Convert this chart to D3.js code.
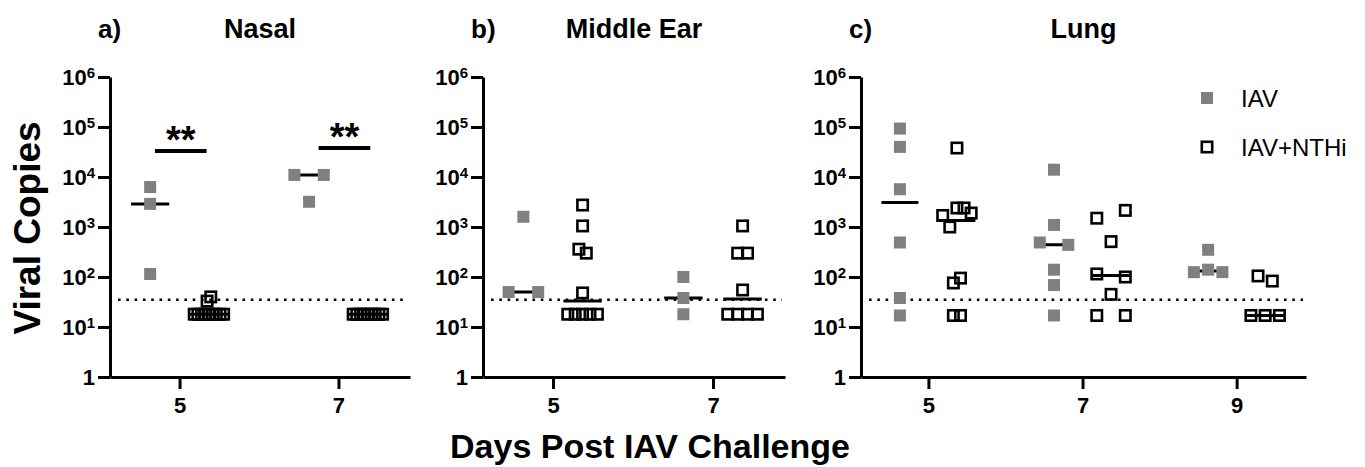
<!DOCTYPE html>
<html>
<head>
<meta charset="utf-8">
<script src="https://cdn.jsdelivr.net/npm/d3@7"></script>
<style>
  body { margin: 0; background: #fff; }
  text { font-family: "Liberation Sans", Arial, sans-serif; }
</style>
</head>
<body>
<svg id="chart" width="1365" height="467"></svg>
<script>
// ---- data (viral copies per animal) ----
const nasalDays = [5, 7];
const nasalIAV = [[6300, 2900, 115], [11000, 3200, 11000]];
const nasalNTHi = [[33, 40, 18, 18, 18, 18, 18, 18, 18, 18, 18], [18, 18, 18, 18, 18, 18, 18, 18, 18]];

const earDays = [5, 7];
const earIAV = [[50, 1600, 50], [100, 38, 18]];
const earNTHi = [[2750, 1050, 360, 300, 48, 18, 18, 18, 18, 18], [1050, 300, 300, 55, 18, 18, 18, 18]];

const lungDays = [5, 7, 9];
const lungIAV = [[93000, 40000, 5700, 490, 38, 17], [14000, 1100, 490, 440, 140, 69, 17], [125, 140, 125, 350]];
const lungNTHi = [[38000, 1700, 1000, 2400, 2400, 1900, 76, 95, 17, 17], [1500, 2150, 510, 115, 100, 45, 17, 17], [105, 83, 17, 17, 17]];

// significance bars on the nasal panel (days, copies)
const sigStart = [4.69, 6.75];
const sigEnd = [5.34, 7.40];
const sigValue = [33000, 38000];
const sigLabel = ["**", "**"];

const detectionLimit = 35;
const yTicks = [1, 10, 100, 1000, 10000, 100000, 1000000];
const seriesNames = ["IAV", "IAV+NTHi"];

// ---- layout ----
const svg = d3.select("#chart");
const gray = "#808080";
const y = d3.scaleLog().domain([1, 1e6]).range([377, 77]);
const groupOffset = 0.37;   // days left/right of the tick
const spreadWidth = 0.37;   // max horizontal spread of a row, in days
const medianHalf = 0.24;

const panels = [
  { letter: "a)", title: "Nasal", days: nasalDays, iav: nasalIAV, nthi: nasalNTHi, x0: 110, x1: 410, sig: true },
  { letter: "b)", title: "Middle Ear", days: earDays, iav: earIAV, nthi: earNTHi, x0: 483, x1: 785 },
  { letter: "c)", title: "Lung", days: lungDays, iav: lungIAV, nthi: lungNTHi, x0: 861, x1: 1306 }
];

// spread points that overlap vertically into a row, GraphPad style
function layoutRows(vals, width) {
  const idx = vals.map((v, i) => i).sort((a, b) => y(vals[b]) - y(vals[a]));
  const rows = [];
  idx.forEach((i, k) => {
    if (k > 0 && Math.abs(y(vals[i]) - y(vals[idx[k - 1]])) < 12) rows[rows.length - 1].push(i);
    else rows.push([i]);
  });
  const m = d3.max(rows, r => r.length);
  const s = m > 1 ? width / (m - 1) : 0;
  const dx = new Array(vals.length).fill(0);
  rows.forEach(r => {
    r.sort((a, b) => a - b);
    r.forEach((i, j) => { dx[i] = (j - (r.length - 1) / 2) * s; });
  });
  return vals.map((v, i) => ({ v: v, dx: dx[i] }));
}

function drawPanel(p) {
  const x = d3.scaleLinear().domain([4.125, d3.max(p.days) + 0.9]).range([p.x0, p.x1]);
  const g = svg.append("g");

  // titles
  g.append("text").attr("x", p.x0 - 12).attr("y", 38)
    .style("font-size", "26px").style("font-weight", "bold").text(p.letter);
  g.append("text").attr("x", (p.x0 + p.x1) / 2).attr("y", 38).attr("text-anchor", "middle")
    .style("font-size", "27px").style("font-weight", "bold").text(p.title);

  // limit of detection
  g.append("line")
    .attr("x1", p.x0 + 8).attr("x2", p.x1 - 3)
    .attr("y1", y(detectionLimit)).attr("y2", y(detectionLimit))
    .attr("stroke", "#000").attr("stroke-width", 2.6).attr("stroke-dasharray", "2.6 5.7");

  // axes
  const yAxis = g.append("g").attr("transform", `translate(${p.x0},0)`)
    .call(d3.axisLeft(y).tickValues(yTicks).tickSize(12).tickSizeOuter(0).tickPadding(3));
  yAxis.selectAll(".tick text").each(function (d) {
    const t = d3.select(this).text(null);
    if (d === 1) { t.text("1"); return; }
    t.append("tspan").text("10");
    t.append("tspan").attr("dy", "-0.45em").style("font-size", "15px").text(Math.round(Math.log10(d)));
  });

  const xAxis = g.append("g").attr("transform", `translate(0,${y(1)})`)
    .call(d3.axisBottom(x).tickValues(p.days).tickSize(12).tickSizeOuter(0).tickPadding(8).tickFormat(d3.format("d")));

  [yAxis, xAxis].forEach(a => {
    a.attr("font-family", null).attr("font-size", null);
    a.selectAll("path, line").attr("stroke", "#000").attr("stroke-width", 3);
    a.selectAll("text").style("font-size", "22px").style("font-weight", "bold").attr("fill", "#000");
  });

  // groups
  p.days.forEach((day, i) => {
    [[p.iav[i], -groupOffset, true], [p.nthi[i], groupOffset, false]].forEach(([vals, off, filled]) => {
      const c = day + off;
      const med = d3.median(vals);
      g.append("line")
        .attr("x1", x(c - medianHalf)).attr("x2", x(c + medianHalf))
        .attr("y1", y(med)).attr("y2", y(med))
        .attr("stroke", "#000").attr("stroke-width", 3);

      const pts = layoutRows(vals, x(spreadWidth) - x(0));
      g.selectAll(null).data(pts).join("rect")
        .attr("x", d => x(c) + d.dx - (filled ? 6 : 5.2))
        .attr("y", d => y(d.v) - (filled ? 6 : 5.2))
        .attr("width", filled ? 12 : 10.4)
        .attr("height", filled ? 12 : 10.4)
        .attr("fill", filled ? gray : "none")
        .attr("stroke", filled ? "none" : "#000")
        .attr("stroke-width", filled ? 0 : 2.6);
    });
  });

  // significance
  if (p.sig) {
    sigStart.forEach((s, i) => {
      g.append("line")
        .attr("x1", x(s)).attr("x2", x(sigEnd[i]))
        .attr("y1", y(sigValue[i])).attr("y2", y(sigValue[i]))
        .attr("stroke", "#000").attr("stroke-width", 4);
      g.append("text")
        .attr("x", x((s + sigEnd[i]) / 2)).attr("y", y(sigValue[i]) + 2)
        .attr("text-anchor", "middle")
        .style("font-size", "38px").style("font-weight", "bold")
        .text(sigLabel[i]);
    });
  }
}

panels.forEach(drawPanel);

// axis titles
svg.append("text")
  .attr("transform", "translate(40,228) rotate(-90)")
  .attr("text-anchor", "middle")
  .style("font-size", "37px").style("font-weight", "bold")
  .text("Viral Copies");

svg.append("text")
  .attr("x", 650).attr("y", 458)
  .attr("text-anchor", "middle")
  .style("font-size", "34px").style("font-weight", "bold")
  .text("Days Post IAV Challenge");

// legend
const legend = svg.append("g").attr("transform", "translate(1207,98)");
seriesNames.forEach((name, i) => {
  const row = legend.append("g").attr("transform", `translate(0,${i * 49})`);
  row.append("rect")
    .attr("x", i === 0 ? -6 : -5.2).attr("y", i === 0 ? -6 : -5.2)
    .attr("width", i === 0 ? 12 : 10.4).attr("height", i === 0 ? 12 : 10.4)
    .attr("fill", i === 0 ? gray : "none")
    .attr("stroke", i === 0 ? "none" : "#000").attr("stroke-width", 2.6);
  row.append("text").attr("x", 34).attr("y", 8.5)
    .style("font-size", "24px").text(name);
});
</script>
</body>
</html>
